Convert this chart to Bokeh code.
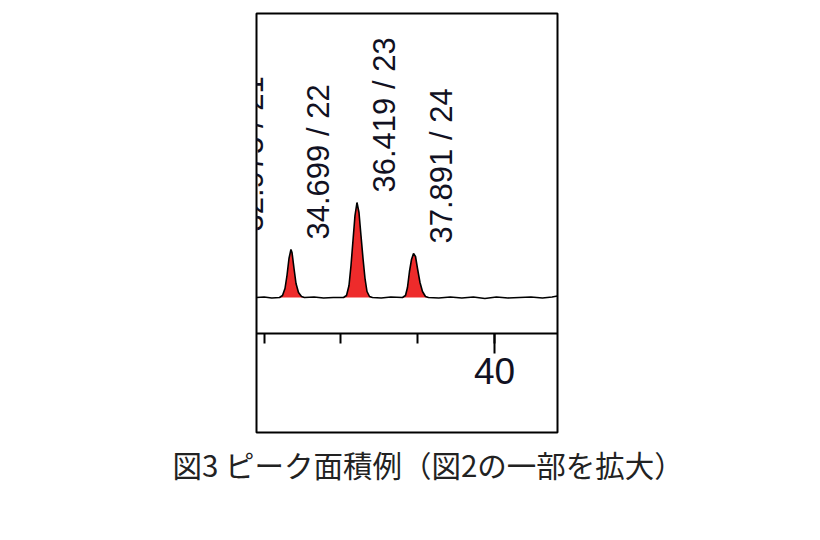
import math
from bokeh.plotting import figure
from bokeh.models import (Range1d, SingleIntervalTicker, LinearAxis, Title, ColumnDataSource)
from bokeh.core.properties import value
from bokeh.embed import file_html
from bokeh.resources import INLINE

# ---- data (retention time in min, signal in arbitrary units)
trace_t = [33.80, 34.00, 34.20, 34.401, 34.479, 34.544, 34.596, 34.648, 34.699, 34.727,
           34.779, 34.831, 34.896, 34.974, 35.052, 35.30, 35.55, 35.80, 36.068, 36.146,
           36.211, 36.263, 36.315, 36.367, 36.419, 36.471, 36.523, 36.576, 36.628, 36.680,
           36.745, 36.823, 37.05, 37.30, 37.604, 37.682, 37.734, 37.786, 37.839, 37.891,
           37.943, 37.995, 38.060, 38.125, 38.203, 38.281, 38.55, 38.85, 39.15, 39.45,
           39.75, 40.05, 40.35, 40.65, 40.95, 41.25, 41.50, 41.64]
trace_y = [0.0, 0.05, -0.05, 0.0, 0.2, 0.9, 2.2, 3.9, 4.8, 4.5,
           2.9, 1.4, 0.5, 0.1, 0.0, 0.05, -0.05, 0.0, 0.0, 0.2,
           1.2, 3.2, 5.7, 8.2, 9.5, 8.5, 6.2, 3.9, 1.9, 0.6,
           0.1, 0.0, -0.05, 0.05, 0.0, 0.2, 1.0, 2.6, 3.8, 4.4,
           4.1, 2.9, 1.5, 0.6, 0.1, 0.0, -0.05, 0.05, -0.05, 0.05,
           -0.1, 0.05, -0.05, 0.0, 0.05, -0.05, 0.05, 0.15]

peak_rt = [32.975, 34.699, 36.419, 37.891]
peak_no = [21, 22, 23, 24]
peak_h = [5.6, 4.8, 9.5, 4.4]

fill_start = [34.401, 36.068, 37.604]
fill_end = [35.052, 36.823, 38.281]

x_min, x_max = 33.802, 41.641
y_min, y_max = -13.5, 28.4   # framed box: plot area plus axis area
axis_at = -3.6               # the time axis is drawn inside the box at this level

caption = "図3 ピーク面積例（図2の一部を拡大）"

# ---- figure
p = figure(width=812, height=532, output_backend="svg", toolbar_location=None,
           title=None, x_range=Range1d(x_min, x_max), y_range=Range1d(y_min, y_max),
           x_axis_location=None, y_axis_location=None,
           min_border_left=256, min_border_right=255,
           min_border_top=13, min_border_bottom=100)
p.grid.visible = False
p.outline_line_color = "black"
p.outline_line_width = 2
p.background_fill_color = "white"
p.border_fill_color = "white"

# caption below the chart (added first so it sits right under the box)
p.add_layout(Title(text=caption, align="left", offset=-84, standoff=17,
                   text_font="Noto Sans CJK JP", text_font_size="29.5px",
                   text_font_style="normal", text_color="#222222"), "below")

ax = LinearAxis(fixed_location=axis_at,
                ticker=SingleIntervalTicker(interval=10, num_minor_ticks=5))
ax.axis_line_width = 2
ax.axis_line_color = "black"
ax.major_tick_line_width = 2
ax.minor_tick_line_width = 2
ax.major_tick_out = 20
ax.major_tick_in = 0
ax.minor_tick_out = 10
ax.minor_tick_in = 0
ax.major_label_text_font = "Liberation Sans"
ax.major_label_text_font_size = "37px"
ax.major_label_text_color = "#111122"
ax.major_label_standoff = 4
p.add_layout(ax, "below")

# red filled peak areas
for s, e in zip(fill_start, fill_end):
    seg = [(t, y) for t, y in zip(trace_t, trace_y) if s <= t <= e]
    xs = [a for a, _ in seg]
    ys = [b for _, b in seg]
    p.varea(x=xs, y1=[0] * len(xs), y2=ys, fill_color="#ee2b2b")

# chromatogram trace
p.line(trace_t, trace_y, line_color="black", line_width=1.6)

# peak labels
labels = [f"{rt:.3f} / {n}" for rt, n in zip(peak_rt, peak_no)]
src = ColumnDataSource(dict(x=peak_rt, y=peak_h, text=labels))
p.text(x="x", y="y", text="text", source=src, angle=math.pi / 2,
       text_align="left", text_baseline="middle", x_offset=28, y_offset=-10,
       text_font=value("Liberation Sans"), text_font_size="31px", text_color="#111122")

open("out.html", "w").write(file_html(p, INLINE))
